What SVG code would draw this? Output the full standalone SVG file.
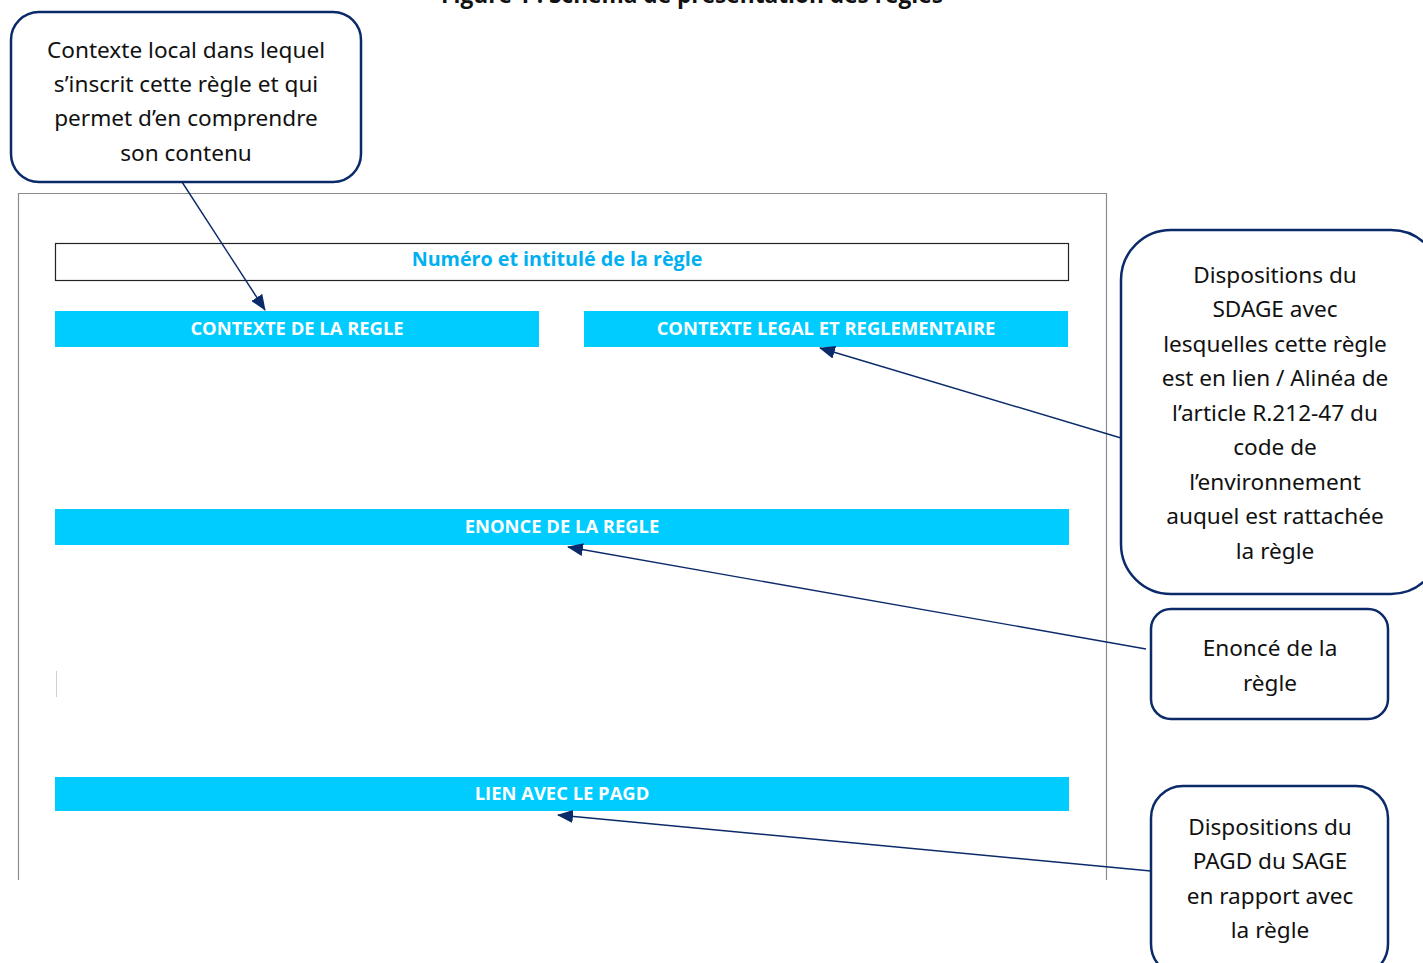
<svg xmlns="http://www.w3.org/2000/svg" width="1423" height="963" viewBox="0 0 1423 963">
<defs>
<style>
.call{fill:#fff;stroke:#0b2a6a;stroke-width:2.5}
.ct{font-family:"Noto Sans","Open Sans",sans-serif;font-size:22.6px;fill:#111;text-anchor:middle}
.bar{fill:#00ccff}
.bt{font-family:"Open Sans","Noto Sans",sans-serif;font-weight:bold;font-size:18.4px;fill:#fff;text-anchor:middle}
.con{stroke:#0b2a6a;stroke-width:1.4;fill:none;marker-end:url(#ah)}
</style>
<marker id="ah" markerWidth="16" markerHeight="13" refX="15" refY="6.5" orient="auto" markerUnits="userSpaceOnUse">
<path d="M0,0 L16,6.5 L0,13 Z" fill="#0b2a6a"/>
</marker>
</defs>
<rect width="1423" height="963" fill="#fff"/>
<text x="692" y="3" font-family="'Open Sans','Noto Sans',sans-serif" font-weight="bold" font-size="22.7" fill="#111" text-anchor="middle">Figure 1 : Schéma de présentation des règles</text>
<g id="frame">
<path d="M18.5,880 V193.5 H1106.5 V880" fill="none" stroke="#8c8c8c" stroke-width="1.2"/>
<line x1="56.5" y1="671" x2="56.5" y2="697" stroke="#d0d0d0" stroke-width="1"/>
</g>
<g id="title-box">
<rect x="55.5" y="243.5" width="1013" height="37" fill="#fff" stroke="#222" stroke-width="1.2"/>
<text x="557" y="266" font-family="'Open Sans','Noto Sans',sans-serif" font-weight="bold" font-size="19.7" fill="#00b0f0" text-anchor="middle">Numéro et intitulé de la règle</text>
</g>
<g id="bar-contexte">
<rect class="bar" x="55" y="311" width="484" height="36"/>
<text class="bt" x="297" y="335">CONTEXTE DE LA REGLE</text>
</g>
<g id="bar-legal">
<rect class="bar" x="584" y="311" width="484" height="36"/>
<text class="bt" x="826" y="335">CONTEXTE LEGAL ET REGLEMENTAIRE</text>
</g>
<g id="bar-enonce">
<rect class="bar" x="55" y="509" width="1014" height="36"/>
<text class="bt" x="562" y="533">ENONCE DE LA REGLE</text>
</g>
<g id="bar-lien">
<rect class="bar" x="55" y="777" width="1014" height="34"/>
<text class="bt" x="562" y="800">LIEN AVEC LE PAGD</text>
</g>
<g id="connectors">
<line class="con" x1="182" y1="182" x2="265" y2="310"/>
<line class="con" x1="1121" y1="438" x2="820" y2="348"/>
<line class="con" x1="1146" y1="649" x2="568" y2="547"/>
<line class="con" x1="1151" y1="871" x2="558" y2="815"/>
</g>
<g id="callout-contexte">
<rect class="call" x="11" y="12" width="350" height="170" rx="28"/>
<text class="ct" x="186" y="58">Contexte local dans lequel</text>
<text class="ct" x="186" y="92">s’inscrit cette règle et qui</text>
<text class="ct" x="186" y="126">permet d’en comprendre</text>
<text class="ct" x="186" y="161">son contenu</text>
</g>
<g id="callout-sdage">
<rect class="call" x="1121" y="230" width="320" height="364" rx="50"/>
<text class="ct" x="1275" y="283">Dispositions du</text>
<text class="ct" x="1275" y="317">SDAGE avec</text>
<text class="ct" x="1275" y="352">lesquelles cette règle</text>
<text class="ct" x="1275" y="386">est en lien / Alinéa de</text>
<text class="ct" x="1275" y="421">l’article R.212-47 du</text>
<text class="ct" x="1275" y="455">code de</text>
<text class="ct" x="1275" y="490">l’environnement</text>
<text class="ct" x="1275" y="524">auquel est rattachée</text>
<text class="ct" x="1275" y="559">la règle</text>
</g>
<g id="callout-enonce">
<rect class="call" x="1151" y="609" width="237" height="110" rx="20"/>
<text class="ct" x="1270" y="656">Enoncé de la</text>
<text class="ct" x="1270" y="691">règle</text>
</g>
<g id="callout-pagd">
<rect class="call" x="1151" y="786" width="237" height="190" rx="32"/>
<text class="ct" x="1270" y="835">Dispositions du</text>
<text class="ct" x="1270" y="869">PAGD du SAGE</text>
<text class="ct" x="1270" y="904">en rapport avec</text>
<text class="ct" x="1270" y="938">la règle</text>
</g>
</svg>
